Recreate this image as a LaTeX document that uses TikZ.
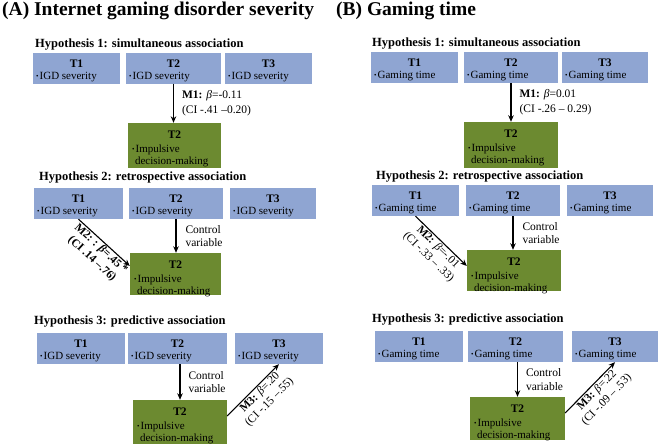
\documentclass[tikz,border=0pt]{standalone}
\usepackage{fontspec}
\setmainfont{Liberation Serif}
\usetikzlibrary{arrows.meta}
\definecolor{boxblue}{RGB}{143,165,210}
\definecolor{boxgreen}{RGB}{108,138,48}
\newcommand\ibul{{\fontsize{7}{7}\selectfont\raisebox{1pt}{•}}\hspace{1.2pt}}
\newcommand\bluebox[7]{%
  \node[bluebx, minimum width=#4pt, minimum height=#5pt] (#1) at (#2,#3) {};
  \node[boxhead] (#1h) at ([yshift=-15pt]#1.north) {#6};
  \node[boxitem] (#1i) at ([xshift=3pt,yshift=-27pt]#1.north west) {\ibul#7};
}
\newcommand\greenbox[6]{%
  \node[greenbx, minimum width=#4pt, minimum height=#5pt] (#1) at (#2,#3) {};
  \node[boxhead] (#1h) at ([yshift=-16pt]#1.north) {#6};
  \node[boxitem] (#1i) at ([xshift=4pt,yshift=-30pt]#1.north west) {\ibul Impulsive};
  \node[boxitem] (#1j) at ([xshift=7pt,yshift=-42pt]#1.north west) {decision-making};
}
\begin{document}
\begin{tikzpicture}[x=1pt,y=-1pt,
  bluebx/.style={fill=boxblue, inner sep=0},
  greenbx/.style={fill=boxgreen, inner sep=0},
  boxhead/.style={anchor=base, inner sep=0, font=\fontsize{11.5}{13}\selectfont\bfseries},
  boxitem/.style={anchor=base west, inner sep=0, font=\fontsize{11}{13}\selectfont},
  htitle/.style={anchor=base west, inner sep=0, font=\fontsize{12.5}{14}\selectfont\bfseries},
  ptitle/.style={anchor=base west, inner sep=0, font=\fontsize{19.5}{22}\selectfont\bfseries},
  arr/.style={line width=1.1pt, -{Stealth[length=6.5pt,width=5.5pt]}},
  lbl/.style={font=\fontsize{11.5}{15}\selectfont, align=left, inner sep=0},
  ctl/.style={font=\fontsize{11.5}{13.5}\selectfont, align=left, inner sep=0},
  dlbl/.style={font=\fontsize{11.5}{13.5}\selectfont, align=center, inner sep=1pt},
]
\useasboundingbox (0,0) rectangle (660,447);
% ---------------- Panel A
\node[ptitle] (PA) at (2,16) {(A) Internet gaming disorder severity};
\node[htitle] (HA1) at (35,47) {Hypothesis 1: simultaneous association};
\bluebox{A1a}{76.5}{68}{87}{31}{T1}{IGD severity}
\bluebox{A1b}{173.5}{68}{95}{31}{T2}{IGD severity}
\bluebox{A1c}{268.5}{68}{87}{31}{T3}{IGD severity}
\greenbox{A1g}{174.5}{145.5}{93}{45}{T2}
\draw[arr] (A1b.south) -- node[lbl, right, xshift=8pt] {\textbf{M1:} \textit{β}=-0.11\\(CI -.41 –0.20)} (A1b.south |- A1g.north);

\node[htitle] (HA2) at (39,180) {Hypothesis 2: retrospective association};
\bluebox{A2a}{78.5}{203.5}{89}{31}{T1}{IGD severity}
\bluebox{A2b}{176}{203.5}{94}{31}{T2}{IGD severity}
\bluebox{A2c}{273}{203.5}{86}{31}{T3}{IGD severity}
\greenbox{A2g}{175.5}{274}{91}{42}{T2}
\draw[arr] (A2b.south) -- node[ctl, right, xshift=9pt] {Control\\variable} (A2b.south |- A2g.north);
\draw[arr] (A2a.south) -- node[dlbl, sloped, below, xshift=2pt] {\textbf{M2: : \textit{β}=.45 *}\\\textbf{(CI .14 –.76)}} ([yshift=8pt]A2g.west);

\node[htitle] (HA3) at (34,324) {Hypothesis 3: predictive association};
\bluebox{A3a}{81}{348.5}{88}{31}{T1}{IGD severity}
\bluebox{A3b}{177.5}{348.5}{99}{31}{T2}{IGD severity}
\bluebox{A3c}{279}{348.5}{88}{31}{T3}{IGD severity}
\greenbox{A3g}{180}{422}{94}{44}{T2}
\draw[arr] (A3g.north |- A3b.south) -- node[ctl, right, xshift=8pt] {Control\\variable} (A3g.north);
\draw[arr] ([yshift=6pt]A3g.east) -- node[dlbl, sloped, below, xshift=3pt] {\textbf{M3:} \textit{β}=.20\\(CI -.15 –.55)} (A3c.south);

% ---------------- Panel B
\node[ptitle] (PB) at (336,16) {(B) Gaming time};
\node[htitle] (HB1) at (372,46) {Hypothesis 1: simultaneous association};
\bluebox{B1a}{414.5}{67.5}{87}{31}{T1}{Gaming time}
\bluebox{B1b}{511}{67.5}{94}{31}{T2}{Gaming time}
\bluebox{B1c}{605}{67.5}{86}{31}{T3}{Gaming time}
\greenbox{B1g}{511}{145}{94}{46}{T2}
\draw[arr] (B1b.south) -- node[lbl, right, xshift=8pt] {\textbf{M1:} \textit{β}=0.01\\(CI -.26 – 0.29)} (B1b.south |- B1g.north);

\node[htitle] (HB2) at (376,179) {Hypothesis 2: retrospective association};
\bluebox{B2a}{415.5}{200.5}{87}{31}{T1}{Gaming time}
\bluebox{B2b}{513}{200.5}{94}{31}{T2}{Gaming time}
\bluebox{B2c}{610}{200.5}{86}{31}{T3}{Gaming time}
\greenbox{B2g}{514}{270.5}{94}{41}{T2}
\draw[arr] (B2b.south) -- node[ctl, right, xshift=9pt] {Control\\variable} (B2b.south |- B2g.north);
\draw[arr] (B2a.south) -- node[dlbl, sloped, below, xshift=2pt] {\textbf{M2:} \textit{β}=-.01\\(CI -.33 – .33)} ([yshift=4.5pt]B2g.west);

\node[htitle] (HB3) at (372,322) {Hypothesis 3: predictive association};
\bluebox{B3a}{419}{346.5}{88}{31}{T1}{Gaming time}
\bluebox{B3b}{515.5}{346.5}{95}{31}{T2}{Gaming time}
\bluebox{B3c}{615}{346.5}{86}{31}{T3}{Gaming time}
\greenbox{B3g}{517.5}{418.5}{95}{43}{T2}
\draw[arr] (B3g.north |- B3b.south) -- node[ctl, right, xshift=8pt] {Control\\variable} (B3g.north);
\draw[arr] ([yshift=5.5pt]B3g.east) -- node[dlbl, sloped, below, xshift=3pt] {\textbf{M3:} \textit{β}=.22\\(CI -.09 – .53)} (B3c.south);
\end{tikzpicture}
\end{document}
